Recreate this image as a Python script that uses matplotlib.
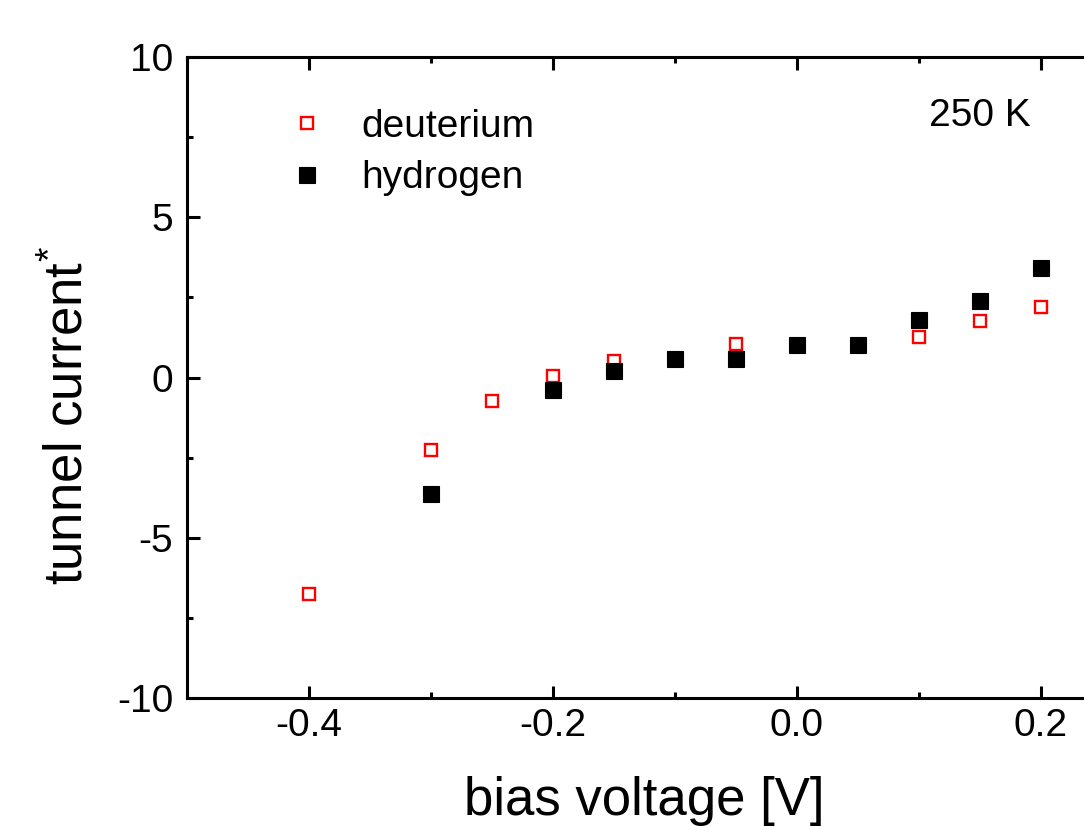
import matplotlib
matplotlib.use("Agg")
import matplotlib.pyplot as plt
from matplotlib.ticker import MultipleLocator

plt.rcParams['font.family'] = ['Liberation Sans', 'DejaVu Sans']
plt.rcParams['mathtext.fontset'] = 'custom'
plt.rcParams['mathtext.rm'] = 'Liberation Sans'
plt.rcParams['mathtext.default'] = 'regular'

# Data
deut_x = [-0.4, -0.3, -0.25, -0.2, -0.15, -0.05, 0.1, 0.15, 0.2]
deut_y = [-6.77, -2.25, -0.72, 0.04, 0.53, 1.05, 1.25, 1.77, 2.21]
hyd_x = [-0.3, -0.2, -0.15, -0.1, -0.05, 0.0, 0.05, 0.1, 0.15, 0.2]
hyd_y = [-3.62, -0.40, 0.20, 0.59, 0.58, 1.0, 1.0, 1.79, 2.40, 3.41]
x_ticks = [-0.4, -0.2, 0.0, 0.2]
x_ticklabels = ['-0.4', '-0.2', '0.0', '0.2']
y_ticks = [-10, -5, 0, 5, 10]
y_ticklabels = ['-10', '-5', '0', '5', '10']

fig = plt.figure(figsize=(10.84, 8.26), dpi=100)
ax = fig.add_axes([187/1084, (826-698)/826, 915/1084, 641/826])

ax.plot(deut_x, deut_y, linestyle='none', marker='s', ms=9, mfc='white',
        mec='#ff0000', mew=1.7, label='deuterium')
ax.plot(hyd_x, hyd_y, linestyle='none', marker='s', ms=11.5, mfc='black',
        mec='black', mew=0.8, label='hydrogen')

ax.set_xlim(-0.5, 0.25)
ax.set_ylim(-10, 10)
ax.set_xticks(x_ticks)
ax.set_xticklabels(x_ticklabels)
ax.set_yticks(y_ticks)
ax.set_yticklabels(y_ticklabels)
ax.xaxis.set_minor_locator(MultipleLocator(0.1))
ax.yaxis.set_minor_locator(MultipleLocator(2.5))

for s in ['left', 'bottom', 'top']:
    ax.spines[s].set_linewidth(2.2)
ax.spines['right'].set_visible(False)

ax.tick_params(which='both', direction='in', top=True, right=False, width=2.2)
ax.tick_params(which='major', length=9, labelsize=28)
ax.tick_params(axis='x', which='major', pad=7)
ax.tick_params(axis='y', which='major', pad=10)
ax.tick_params(which='minor', length=4.5)

ax.set_xlabel('bias voltage [V]', fontsize=38, labelpad=23)
ax.set_ylabel('tunnel current$^{*}$', fontsize=38)
ax.yaxis.set_label_coords(-0.1025, 0.44)

ax.legend(loc='upper left', bbox_to_anchor=(0.11, 0.919), frameon=False,
          fontsize=28, handlelength=1.0, handletextpad=0.9, labelspacing=0.4,
          borderpad=0, borderaxespad=0)

ax.text(0.811, 0.892, '250 K', transform=ax.transAxes, fontsize=28,
        ha='left', va='baseline')

fig.savefig('out.png', dpi=100)
